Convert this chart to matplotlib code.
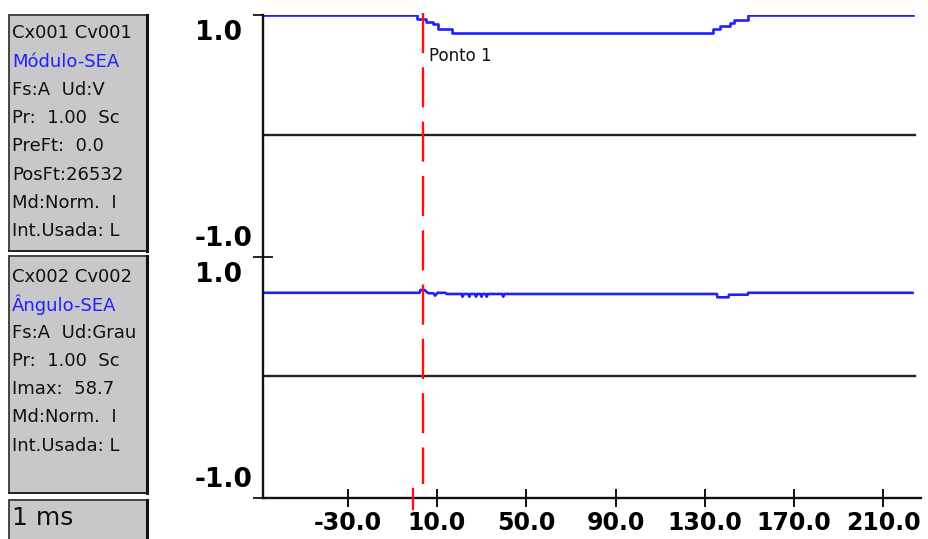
import matplotlib
matplotlib.use('Agg')
import matplotlib.pyplot as plt
from matplotlib.patches import Rectangle
from matplotlib.transforms import blended_transform_factory
from matplotlib.ticker import FormatStrFormatter

# dados (tempo em ms)
top_t = [-68.0, 1.0, 5.0, 8.4, 10.6, 16.6, 133.8, 136.9, 141.3, 143.0, 149.3, 223.0]
top_v = [1.0, 0.964, 0.942, 0.922, 0.886, 0.853, 0.886, 0.91, 0.93, 0.96, 1.0, 1.0]

bot_t = [-68.0, 2.2, 2.6, 4.6, 5.2, 6.2, 8.4, 9.2, 10.2, 13.8, 14.4, 21.0, 21.5, 22.0,
         24.0, 24.5, 25.0, 27.0, 27.5, 28.0, 29.5, 30.0, 30.5, 31.8, 32.3, 32.8,
         39.2, 39.7, 40.2, 135.4, 135.6, 140.6, 140.8, 149.2, 149.4, 223.0]
bot_v = [0.70, 0.70, 0.723, 0.723, 0.709, 0.696, 0.696, 0.676, 0.70, 0.70, 0.69, 0.69,
         0.667, 0.69, 0.69, 0.667, 0.69, 0.69, 0.667, 0.69, 0.69, 0.667, 0.69, 0.69,
         0.667, 0.69, 0.69, 0.667, 0.69, 0.69, 0.662, 0.662, 0.684, 0.684, 0.70, 0.70]

cursor_t = 3.6
ref_t = -0.6
x_ticks = [-30.0, 10.0, 50.0, 90.0, 130.0, 170.0, 210.0]
y_levels = [1.0, -1.0]
y_labels = ['1.0', '-1.0']

box1 = ['Cx001 Cv001', 'Módulo-SEA', 'Fs:A  Ud:V', 'Pr:  1.00  Sc', 'PreFt:  0.0',
        'PosFt:26532', 'Md:Norm.  I', 'Int.Usada: L']
box2 = ['Cx002 Cv002', 'Ângulo-SEA', 'Fs:A  Ud:Grau', 'Pr:  1.00  Sc', 'Imax:  58.7',
        'Md:Norm.  I', 'Int.Usada: L']

W, H = 929, 539
fig = plt.figure(figsize=(W / 100, H / 100), dpi=100)
fig.patch.set_facecolor('white')

blue = '#1f1fff'
lw = 1.9

ax1 = fig.add_axes([263 / W, 1 - 255 / H, 658 / W, 240 / H])
ax2 = fig.add_axes([263 / W, 1 - 498 / H, 658 / W, 241 / H])
xmin, xmax = -67.9, 226.8

for ax in (ax1, ax2):
    ax.set_xlim(xmin, xmax)
    for s in ['top', 'right']:
        ax.spines[s].set_visible(False)
    ax.spines['left'].set_linewidth(1.7)
    ax.spines['left'].set_color('#111111')
    ax.plot([xmin, 224.1], [0, 0], color='#222222', lw=1.7)

ax1.set_ylim(-1, 1)
ax2.set_ylim(-1.02, 1)
ax1.spines['bottom'].set_visible(False)
ax1.set_xticks([])
ax2.spines['bottom'].set_linewidth(1.7)
ax2.spines['bottom'].set_color('#111111')

ax1.plot(top_t, top_v, drawstyle='steps-post', color=blue, lw=lw)
ax2.plot(bot_t, bot_v, color=blue, lw=lw)

# eixo x
ax2.set_xticks(x_ticks)
ax2.xaxis.set_major_formatter(FormatStrFormatter('%.1f'))
ax2.tick_params(axis='x', direction='inout', length=13, width=1.4, pad=3,
                labelsize=17, color='#111111')
for lab in ax2.get_xticklabels():
    lab.set_fontweight('bold')

# eixo y
ax1.set_yticks([1.0])
ax1.set_yticklabels([])
ax1.tick_params(axis='y', direction='out', length=7, width=1.2)
ax2.set_yticks([1.0])
ax2.set_yticklabels([])
ax2.set_yticks([-1.02], minor=True)
ax2.tick_params(axis='y', which='major', direction='inout', length=14, width=1.2)
ax2.tick_params(axis='y', which='minor', direction='out', length=7, width=1.2)

for ax in (ax1, ax2):
    for lev, txt in zip(y_levels, y_labels):
        if lev > 0:
            ax.annotate(txt, xy=(0, lev), xycoords=('axes fraction', 'data'),
                        xytext=(-21, -5), textcoords='offset pixels',
                        ha='right', va='top', fontsize=19, fontweight='bold')
        else:
            ax.annotate(txt, xy=(0, lev), xycoords=('axes fraction', 'data'),
                        xytext=(-10, 9), textcoords='offset pixels',
                        ha='right', va='baseline', fontsize=19, fontweight='bold')

# cursores
tr = blended_transform_factory(ax2.transData, ax2.transAxes)
ax2.plot([cursor_t, cursor_t], [2.012, 0.058], transform=tr, clip_on=False,
         color='#ff1010', lw=1.7, dashes=(17, 6), zorder=5)
ax2.plot([ref_t, ref_t], [0.037, -0.046], transform=tr, clip_on=False,
         color='#ff1010', lw=1.7, zorder=5)
ax1.annotate('Ponto 1', xy=(cursor_t, 1.0), xycoords='data',
             xytext=(6, -41), textcoords='offset pixels',
             ha='left', va='center', fontsize=12, color='#111111')

# painéis de informação à esquerda
ov = fig.add_axes([0, 0, 1, 1], zorder=-1)
ov.set_xlim(0, W)
ov.set_ylim(H, 0)
ov.axis('off')


def panel(y0, y1, lines, y_first, step, size=13):
    rect = Rectangle((9, y0), 139, y1 - y0, facecolor='#c8c8cb', edgecolor='none')
    ov.add_patch(rect)
    for i, s in enumerate(lines):
        col = '#1f1fff' if i == 1 else '#111111'
        t = ov.text(12, y_first + step * i, s, fontsize=size, color=col,
                    ha='left', va='center')
        t.set_clip_path(rect)
    ov.plot([9, 9], [y0, y1], color='#444444', lw=1.4)
    ov.plot([9, 148], [y0, y0], color='#444444', lw=1.4)
    ov.plot([147.5, 147.5], [y0, y1], color='#111111', lw=2.2)
    ov.plot([9, 148], [y1, y1], color='#222222', lw=1.4)


panel(15, 251, box1, 33.5, 28.2)
panel(256, 493, box2, 277, 28.1)
panel(500, 560, ['1 ms'], 518, 0, size=18)

fig.savefig('out.png', dpi=100)
